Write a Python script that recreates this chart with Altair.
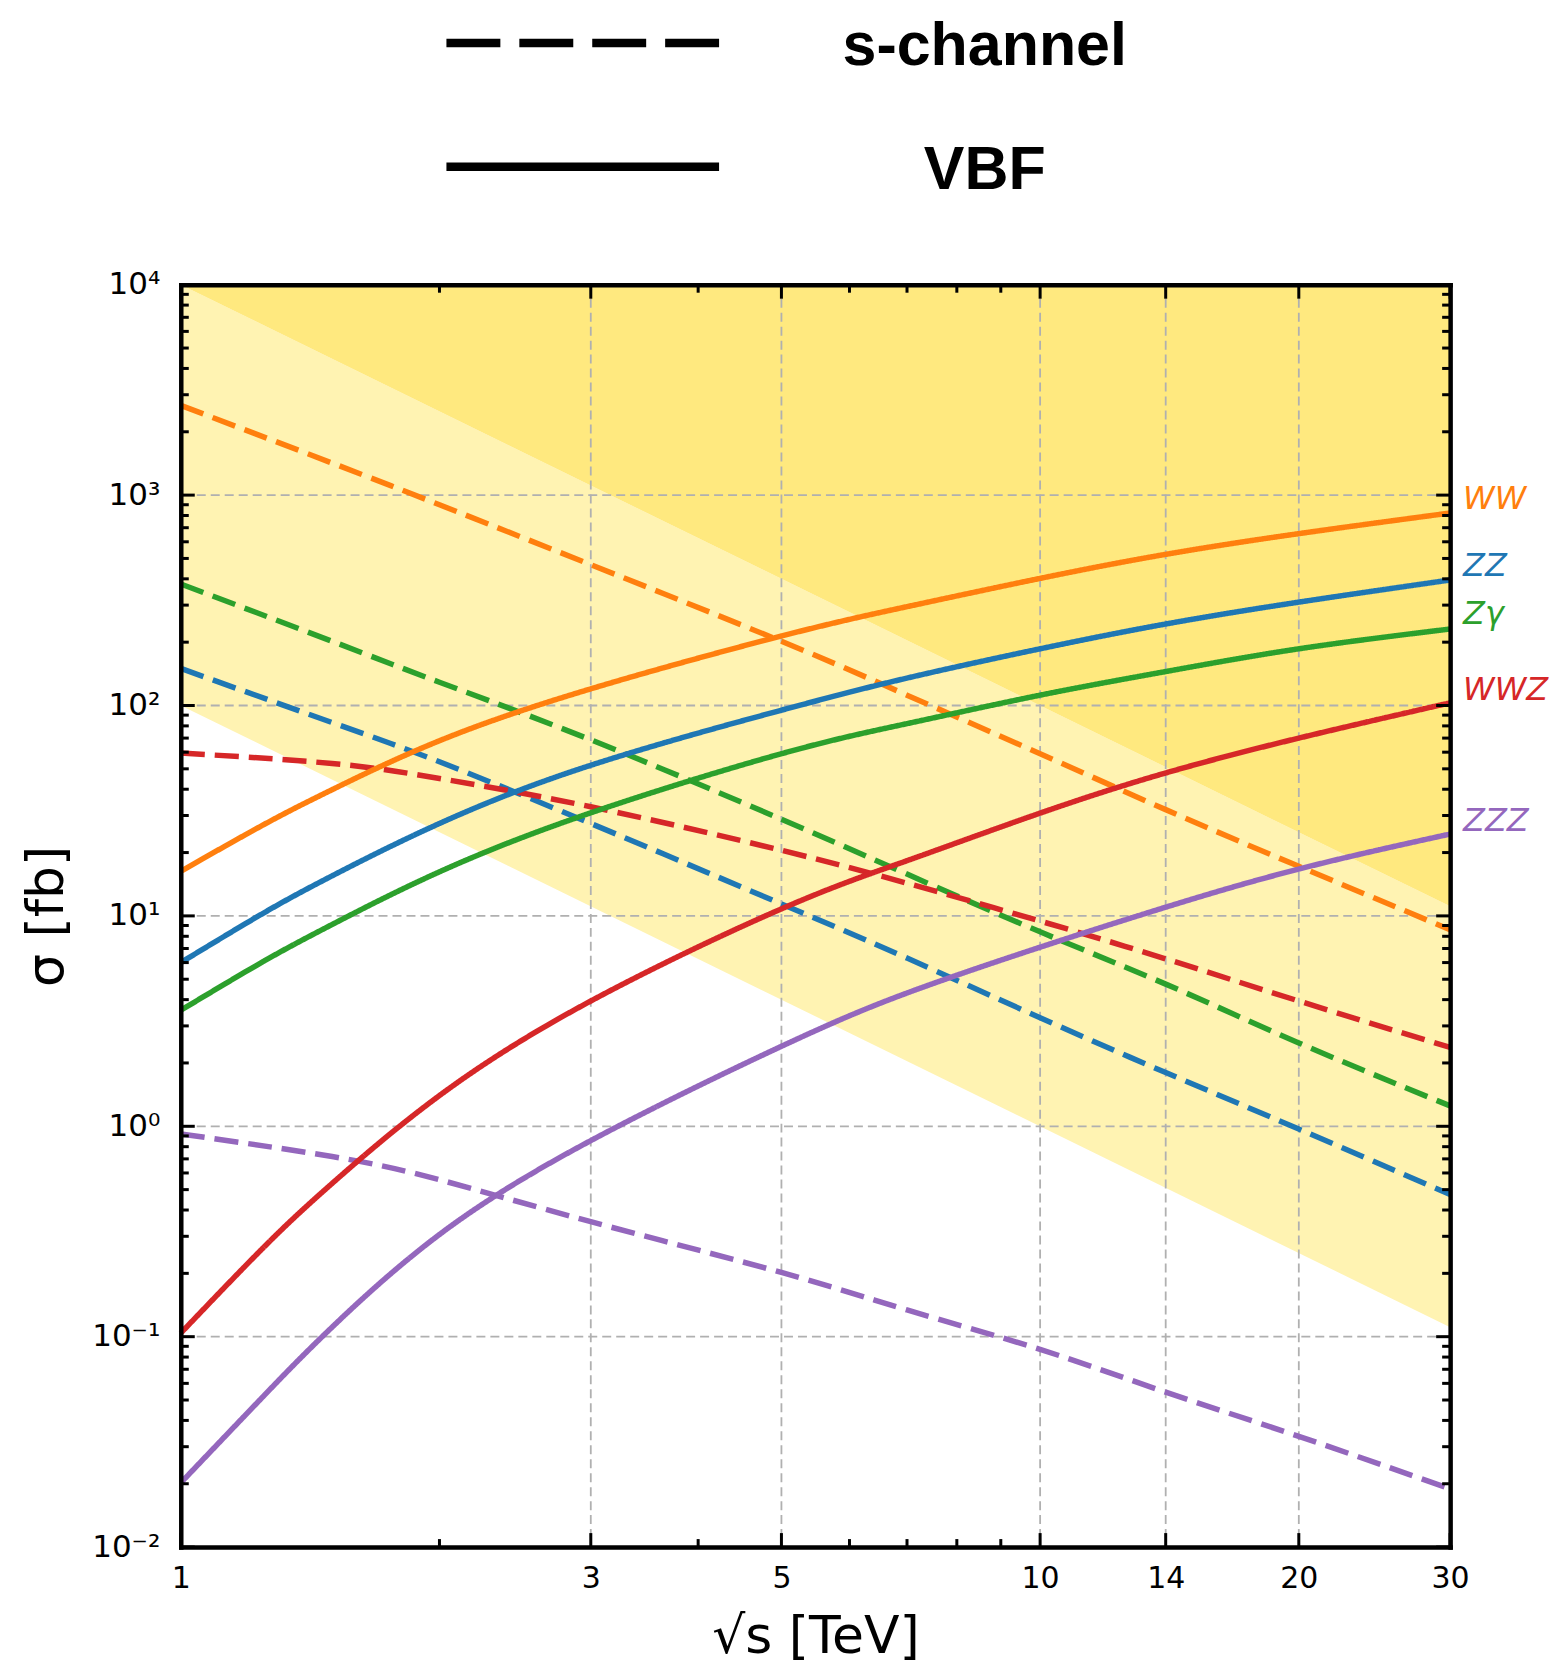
import json
import altair as alt
import pandas as pd

# ---------------- data ----------------
processes = ["WW", "ZZ", "Zγ", "WWZ", "ZZZ"]
proc_colors = ["#ff7f0e", "#1f77b4", "#2ca02c", "#d62728", "#9467bd"]
kinds = ["s-channel", "VBF"]

energy_s = [1, 1.5, 2, 3, 5, 7, 10, 14, 20, 30]
energy_vbf = [1, 1.25, 1.5, 2, 3, 5, 7, 10, 14, 20, 30]

ww_s = [2670, 1420, 900, 467, 202, 112, 59, 32, 17.2, 8.6]
zz_s = [150, 83, 54, 27.5, 11.4, 6.3, 3.28, 1.80, 0.97, 0.474]
za_s = [378, 202, 129, 68.7, 28.8, 15.8, 8.4, 4.74, 2.49, 1.25]
wwz_s = [59.4, 53, 45, 33, 20.5, 14.3, 9.45, 6.25, 3.94, 2.37]
zzz_s = [0.92, 0.718, 0.557, 0.352, 0.202, 0.134, 0.087, 0.0545, 0.0336, 0.0189]

ww_vbf = [16.3, 27.2, 39.8, 68, 120, 214, 295, 402, 523, 656, 822]
zz_vbf = [6.0, 10.35, 15.5, 27.5, 52, 95, 135, 186, 244, 310, 395]
za_vbf = [3.56, 6.1, 9.1, 16.2, 30.9, 59, 82, 112, 145, 186, 231]
wwz_vbf = [0.104, 0.267, 0.535, 1.40, 3.94, 10.8, 18.3, 30.8, 47.8, 70, 103]
zzz_vbf = [0.0202, 0.0525, 0.111, 0.306, 0.855, 2.40, 4.3, 7.1, 11.0, 16.7, 24.5]

# shaded bands (straight lines in log-log, given by their end points)
band_x = [1, 30]
band_low = [100, 0.111]
band_mid = [10000, 11.1]
band_top = [10000, 10000]

# curve labels at right edge (sigma position of each label)
label_sigma = [960, 462, 271, 119, 28.4]

# axes
x_tick_values = [1, 3, 5, 10, 14, 20, 30]
x_tick_labels = ["1", "3", "5", "10", "14", "20", "30"]
x_minor = [2, 4, 6, 7, 8, 9]
x_grid = [3, 5, 10, 14, 20]
y_tick_values = [0.01, 0.1, 1, 10, 100, 1000, 10000]
y_tick_labels = ["10⁻²", "10⁻¹", "10⁰", "10¹", "10²", "10³", "10⁴"]
y_minor = [m * 10.0 ** e for e in range(-2, 4) for m in range(2, 10)]
y_grid = [0.1, 1, 10, 100, 1000]

# ---------------- tables ----------------
series = [
    ("WW", "s-channel", energy_s, ww_s), ("ZZ", "s-channel", energy_s, zz_s),
    ("Zγ", "s-channel", energy_s, za_s), ("WWZ", "s-channel", energy_s, wwz_s),
    ("ZZZ", "s-channel", energy_s, zzz_s),
    ("WW", "VBF", energy_vbf, ww_vbf), ("ZZ", "VBF", energy_vbf, zz_vbf),
    ("Zγ", "VBF", energy_vbf, za_vbf), ("WWZ", "VBF", energy_vbf, wwz_vbf),
    ("ZZZ", "VBF", energy_vbf, zzz_vbf),
]
rows = []
for p, k, xs, ys in series:
    for xv, yv in zip(xs, ys):
        rows.append({"process": p, "kind": k, "series": p + "|" + k, "x": xv, "y": yv})
curves = pd.DataFrame(rows)
bands = pd.DataFrame({"x": band_x, "low": band_low, "mid": band_mid, "top": band_top})
labels_df = pd.DataFrame({"process": processes, "y": label_sigma})

W, H = 1271, 1264
FONT = "DejaVu Sans"
xscale = alt.Scale(type="log", domain=[1, 30], nice=False)
yscale = alt.Scale(type="log", domain=[0.01, 10000], nice=False)
color_scale = alt.Scale(domain=processes, range=proc_colors)

frame = dict(domain=True, domainColor="black", domainWidth=4.5, domainCap="square",
             grid=False, ticks=False, tickSize=0, zindex=1)

x_label_expr = f"{json.dumps(x_tick_labels, ensure_ascii=False)}[indexof({json.dumps(x_tick_values)}, datum.value)]"
y_label_expr = f"{json.dumps(y_tick_labels, ensure_ascii=False)}[indexof({json.dumps(y_tick_values)}, datum.value)]"

x_axis_bottom = alt.Axis(orient="bottom", values=x_tick_values, labelExpr=x_label_expr,
                         labelFont=FONT, labelFontSize=30, labelColor="black",
                         labelPadding=16, labelOverlap=False, labelFlush=False,
                         title="√s [TeV]", titleFont=FONT, titleFontSize=52,
                         titleFontWeight="normal", titleColor="black", titlePadding=19, **frame)
y_axis_left = alt.Axis(orient="left", values=y_tick_values, labelExpr=y_label_expr,
                       labelFont=FONT, labelFontSize=31, labelColor="black",
                       labelPadding=21, labelOverlap=False, labelFlush=False,
                       title="σ [fb]", titleFont=FONT, titleFontSize=52,
                       titleFontWeight="normal", titleColor="black", titlePadding=18, **frame)
x_axis_top = alt.Axis(orient="top", labels=False, title=None, **frame)
y_axis_right = alt.Axis(orient="right", labels=False, title=None, **frame)

band_light = alt.Chart(bands).mark_area(color="#FFF3B2", opacity=1).encode(
    x=alt.X("x:Q", scale=xscale, axis=None),
    y=alt.Y("low:Q", scale=yscale, axis=None), y2="mid:Q")
band_dark = alt.Chart(bands).mark_area(color="#FFE97F", opacity=1).encode(
    x=alt.X("x:Q", scale=xscale, axis=None),
    y=alt.Y("mid:Q", scale=yscale, axis=None), y2="top:Q")

grid_style = dict(color="#b0b0b0", strokeWidth=1.8, strokeDash=[9, 5])
grid_x = alt.Chart(pd.DataFrame({"v": x_grid})).mark_rule(**grid_style).encode(
    x=alt.X("v:Q", scale=xscale, axis=x_axis_top))
grid_y = alt.Chart(pd.DataFrame({"v": y_grid})).mark_rule(**grid_style).encode(
    y=alt.Y("v:Q", scale=yscale, axis=y_axis_right))

lines = alt.Chart(curves).mark_line(strokeWidth=5.5, interpolate="natural").encode(
    x=alt.X("x:Q", scale=xscale, axis=x_axis_bottom),
    y=alt.Y("y:Q", scale=yscale, axis=y_axis_left),
    color=alt.Color("process:N", scale=color_scale, legend=None),
    strokeDash=alt.StrokeDash("kind:N", scale=alt.Scale(domain=kinds, range=[[24, 10], [1, 0]]), legend=None),
    detail="series:N",
)

curve_labels = alt.Chart(labels_df).mark_text(
    align="left", baseline="middle", dx=13, font=FONT, fontSize=32, fontStyle="italic").encode(
    x=alt.value(W),
    y=alt.Y("y:Q", scale=yscale, axis=None),
    color=alt.Color("process:N", scale=color_scale, legend=None),
    text="process:N")

tick_style = dict(color="black", strokeWidth=3)
xmaj = pd.DataFrame({"v": x_tick_values})
xmin = pd.DataFrame({"v": x_minor})
ymaj = pd.DataFrame({"v": y_tick_values})
ymin = pd.DataFrame({"v": y_minor})
MAJ, MIN = 14, 8


def xticks(df, L):
    b = alt.Chart(df).mark_rule(**tick_style).encode(
        x=alt.X("v:Q", scale=xscale, axis=None), y=alt.value(H), y2=alt.value(H - L))
    t = alt.Chart(df).mark_rule(**tick_style).encode(
        x=alt.X("v:Q", scale=xscale, axis=None), y=alt.value(0), y2=alt.value(L))
    return [b, t]


def yticks(df, L):
    l = alt.Chart(df).mark_rule(**tick_style).encode(
        y=alt.Y("v:Q", scale=yscale, axis=None), x=alt.value(0), x2=alt.value(L))
    r = alt.Chart(df).mark_rule(**tick_style).encode(
        y=alt.Y("v:Q", scale=yscale, axis=None), x=alt.value(W), x2=alt.value(W - L))
    return [l, r]


tick_layers = xticks(xmaj, MAJ) + xticks(xmin, MIN) + yticks(ymaj, MAJ) + yticks(ymin, MIN)

main = alt.layer(band_light, band_dark, grid_x, grid_y, lines, curve_labels, *tick_layers).resolve_axis(
    x="independent", y="independent").properties(width=W, height=H)

# ---------------- legend panel ----------------
legend_df = pd.DataFrame({"kind": kinds})
leg_y = alt.Y("kind:N", scale=alt.Scale(type="point", domain=kinds, padding=0.25), axis=None)
leg_lines = alt.Chart(legend_df).mark_rule(strokeWidth=8.5, color="black").encode(
    y=leg_y, x=alt.value(266), x2=alt.value(539),
    strokeDash=alt.StrokeDash("kind:N", scale=alt.Scale(domain=kinds, range=[[54, 19], [1, 0]]), legend=None))
leg_text = alt.Chart(legend_df).mark_text(
    font="Liberation Sans", fontSize=61, fontWeight="bold", align="center", baseline="middle",
    dy=4, color="black").encode(y=leg_y, x=alt.value(805), text="kind:N")
legend = alt.layer(leg_lines, leg_text).properties(width=W, height=186)

chart = alt.vconcat(legend, main, spacing=87, bounds="flush").resolve_scale(
    strokeDash="independent", y="independent", x="independent"
).properties(
    padding={"left": 12, "top": 3, "right": 0, "bottom": 0}
).configure_view(stroke=None)

chart.save("out.html", embed_options={"renderer": "svg", "actions": False})
